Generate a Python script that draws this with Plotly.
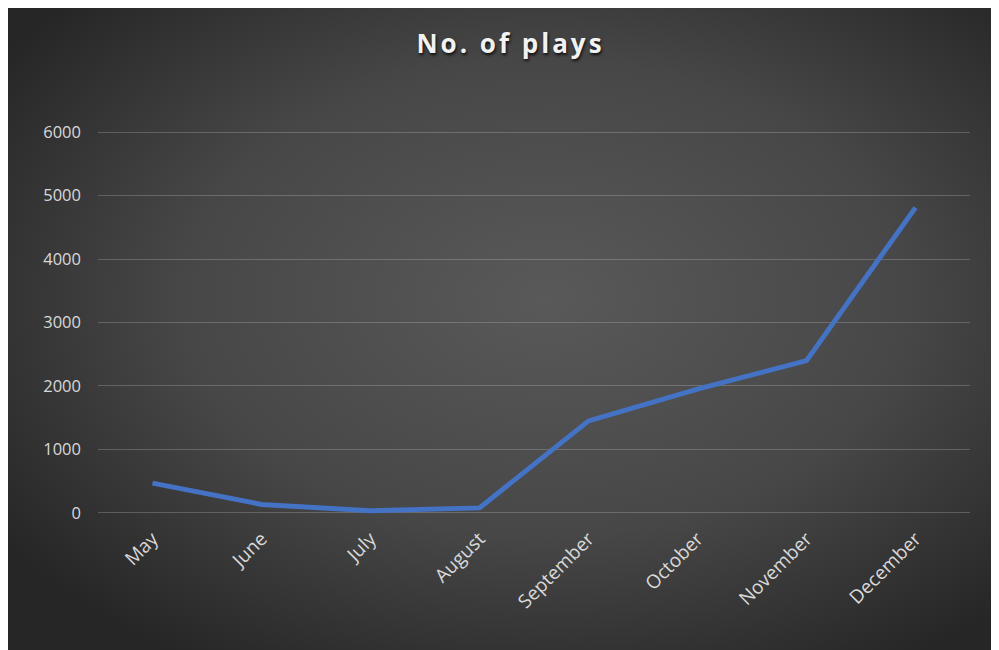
import base64
import plotly.graph_objects as go

months = ["May", "June", "July", "August", "September", "October", "November", "December"]
plays = [470, 135, 35, 80, 1450, 1950, 2400, 4810]
y_ticks = [0, 1000, 2000, 3000, 4000, 5000, 6000]

# page body adds an 8px offset, so margins are shifted to compensate
W, H = 999, 650
L, R, T, B = 90, 37, 122, 143

# radial grey background like the Excel chart style
svg = """<svg xmlns='http://www.w3.org/2000/svg' width='1000' height='650'>
<defs><radialGradient id='g' cx='54%' cy='45%' r='66%'>
<stop offset='0' stop-color='#595959'/><stop offset='0.55' stop-color='#474747'/>
<stop offset='1' stop-color='#262626'/></radialGradient></defs>
<rect width='1000' height='650' fill='url(#g)'/></svg>"""
bg_src = "data:image/svg+xml;base64," + base64.b64encode(svg.encode()).decode()

pw, ph = W - L - R, H - T - B

fig = go.Figure()
fig.add_trace(go.Scatter(x=months, y=plays, mode="lines",
                         line=dict(color="#4472C4", width=5),
                         hoverinfo="x+y", showlegend=False))

fig.update_layout(
    width=W, height=H,
    margin=dict(l=L, r=R, t=T, b=B),
    paper_bgcolor="#2b2b2b",
    plot_bgcolor="rgba(0,0,0,0)",
    images=[dict(source=bg_src, xref="paper", yref="paper",
                 x=(-2 - L) / pw, y=(H - B + 2) / ph,
                 sizex=1000 / pw, sizey=650 / ph,
                 sizing="stretch", xanchor="left", yanchor="top", layer="below")],
    title=dict(text='<b><span style="letter-spacing:3px">No. of plays</span></b>',
               x=0.503, xanchor="center", y=0.945, yanchor="middle",
               font=dict(family="Open Sans", size=26, color="#f2f2f2",
                         shadow="1px 2px 3px rgba(0,0,0,0.8)")),
    font=dict(family="Open Sans", size=16, color="#d9d9d9"),
)
fig.update_xaxes(type="category", range=[-0.5, 7.5], showgrid=False, zeroline=False,
                 showline=False, tickangle=-45, ticks="", ticklabelstandoff=8,
                 tickfont=dict(size=19, color="#d9d9d9"))
fig.update_yaxes(range=[-32, 6032], tickvals=y_ticks, showgrid=True,
                 gridcolor="rgba(217,217,217,0.25)", gridwidth=1.3, zeroline=False,
                 showline=False, ticks="", ticklabelstandoff=16,
                 tickfont=dict(size=16.5, color="#d9d9d9"))

fig.write_html("out.html")
